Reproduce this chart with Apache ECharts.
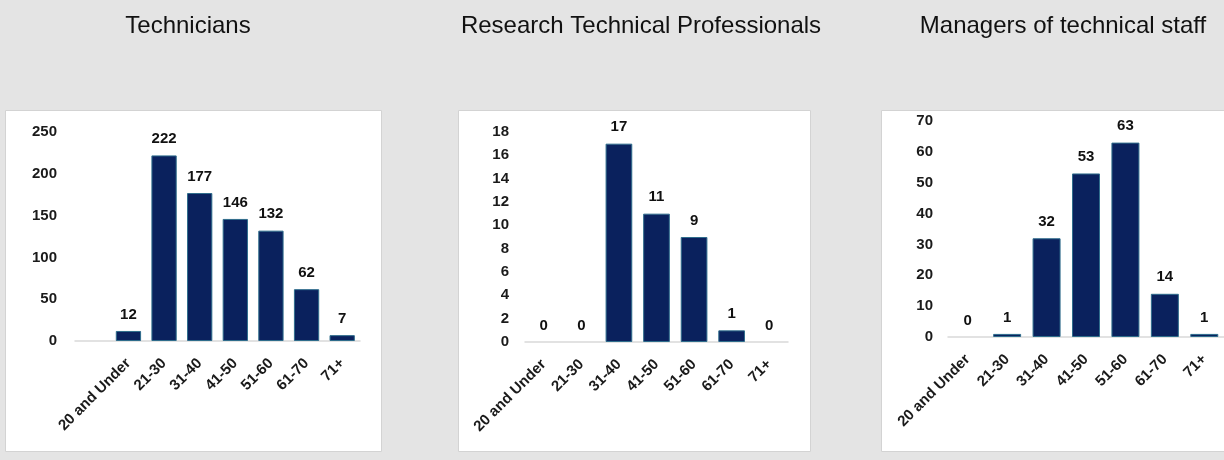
<!DOCTYPE html>
<html>
<head>
<meta charset="utf-8">
<script src="https://cdn.jsdelivr.net/npm/echarts@6/dist/echarts.min.js"></script>
<style>
  html, body { margin: 0; padding: 0; background: #e4e4e4; }
  #chart { width: 1224px; height: 460px; }
</style>
</head>
<body>
<div id="chart"></div>
<script>
// Age bands (the technicians chart keeps a blank leading slot)
const techCategories = ['', '20 and Under', '21-30', '31-40', '41-50', '51-60', '61-70', '71+'];
const ageCategories = ['20 and Under', '21-30', '31-40', '41-50', '51-60', '61-70', '71+'];

// Headcounts per age band
const techniciansValues = [null, 12, 222, 177, 146, 132, 62, 7];
const researchValues = [0, 0, 17, 11, 9, 1, 0];
const managersValues = [0, 1, 32, 53, 63, 14, 1];

// Panel titles
const panelTitles = ['Technicians', 'Research Technical Professionals', 'Managers of technical staff'];

// Value-axis ranges
const axisRanges = [
  { max: 250, interval: 50 },
  { max: 18, interval: 2 },
  { max: 70, interval: 10 }
];

const FONT = '"Liberation Sans", Arial, sans-serif';
const BAR_COLOR = '#0a215d';
const BAR_EDGE = '#2f6d8c';

const chart = echarts.init(document.getElementById('chart'), null, { renderer: 'canvas' });

const grids = [
  { left: 75, top: 132, width: 285, height: 209 },
  { left: 525, top: 132, width: 263, height: 210 },
  { left: 948, top: 121, width: 282, height: 216 }
];
const yMargins = [18, 16, 15];
const titleCenters = [183, 636, 1058];
const categorySets = [techCategories, ageCategories, ageCategories];
const valueSets = [techniciansValues, researchValues, managersValues];

// White card behind each chart
const panels = [
  { x: 5, y: 110, w: 376, h: 341 },
  { x: 458, y: 110, w: 352, h: 341 },
  { x: 881, y: 110, w: 360, h: 341 }
];

// Zero-height bars get no outline so nothing is drawn over the axis
function barData(vals) {
  return vals.map(v => (v === 0 ? { value: 0, itemStyle: { borderWidth: 0 } } : v));
}

const option = {
  backgroundColor: '#e4e4e4',
  animation: false,
  graphic: panels.map(p => ({
    type: 'rect',
    z: -10,
    silent: true,
    shape: { x: p.x + 0.5, y: p.y + 0.5, width: p.w, height: p.h },
    style: { fill: '#ffffff', stroke: '#d3d3d3', lineWidth: 1 }
  })),
  title: panelTitles.map((t, i) => ({
    text: t,
    left: titleCenters[i],
    top: 9,
    textAlign: 'center',
    textStyle: { fontFamily: FONT, fontSize: 24, fontWeight: 'normal', color: '#111111' }
  })),
  grid: grids.map(g => Object.assign({ containLabel: false }, g)),
  xAxis: categorySets.map((cats, i) => ({
    type: 'category',
    gridIndex: i,
    data: cats,
    axisLine: { show: true, lineStyle: { color: '#d9d9d9', width: 1.5 } },
    axisTick: { show: false },
    axisLabel: {
      interval: 0,
      rotate: 45,
      margin: 20,
      fontFamily: FONT,
      fontSize: 15,
      fontWeight: 'bold',
      color: '#1a1a1a'
    }
  })),
  yAxis: axisRanges.map((r, i) => ({
    type: 'value',
    gridIndex: i,
    min: 0,
    max: r.max,
    interval: r.interval,
    splitLine: { show: false },
    axisLine: { show: false },
    axisTick: { show: false },
    axisLabel: {
      margin: yMargins[i],
      fontFamily: FONT,
      fontSize: 15,
      fontWeight: 'bold',
      color: '#1a1a1a'
    }
  })),
  series: valueSets.map((vals, i) => ({
    type: 'bar',
    xAxisIndex: i,
    yAxisIndex: i,
    data: barData(vals),
    barCategoryGap: '29%',
    itemStyle: { color: BAR_COLOR, borderColor: BAR_EDGE, borderWidth: 1 },
    label: {
      show: true,
      position: 'top',
      distance: 9,
      fontFamily: FONT,
      fontSize: 15,
      fontWeight: 'bold',
      color: '#111111'
    }
  }))
};

chart.setOption(option);
</script>
</body>
</html>
